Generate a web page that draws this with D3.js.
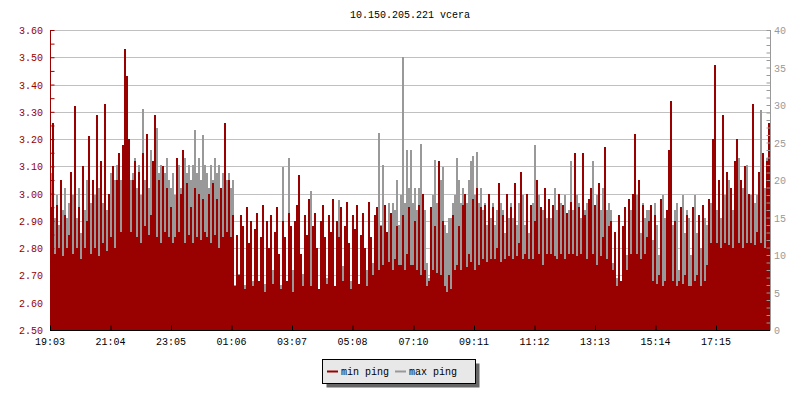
<!DOCTYPE html>
<html><head><meta charset="utf-8">
<script src="https://cdnjs.cloudflare.com/ajax/libs/d3/7.8.5/d3.min.js"></script>
<style>
html,body{margin:0;padding:0;background:#fff;}
svg text{font-family:"Liberation Mono","DejaVu Sans Mono",monospace;font-size:10px;}
</style></head>
<body><svg id="c" width="800" height="400"></svg>
<script>
const title = "10.150.205.221 vcera";
const xTickLabels = ["19:03","21:04","23:05","01:06","03:07","05:08","07:10","09:11","11:12","13:13","15:14","17:15"];
const leftTickLabels = ["2.50","2.60","2.70","2.80","2.90","3.00","3.10","3.20","3.30","3.40","3.50","3.60"];
const rightTickLabels = [0,5,10,15,20,25,30,35,40];
const seriesNames = ["min ping","max ping"];
const spanMinutes = 1440;
const stepMinutes = 4;
// min ping (left axis), one value per 4 minutes
const minPing = [
2.95,3.26,2.78,2.96,2.80,3.05,2.77,2.92,2.80,2.85,
3.08,2.78,3.32,2.80,2.95,2.76,3.10,2.80,2.90,3.21,
2.78,3.05,2.80,3.29,2.77,3.12,2.82,3.33,2.79,3.00,
2.84,3.10,2.80,3.05,3.15,2.86,3.18,3.53,3.43,3.20,
2.86,3.05,3.12,2.84,3.08,2.82,3.15,2.88,3.22,2.85,
2.92,3.12,3.29,2.84,3.05,2.82,3.10,2.86,3.02,2.84,
2.95,2.82,2.84,3.13,2.86,3.00,3.16,2.82,3.04,2.85,
2.95,2.82,3.02,2.84,3.00,2.83,2.98,2.86,2.84,3.00,
2.82,3.04,2.85,2.98,2.80,3.02,2.84,3.26,2.86,3.05,
2.84,2.92,2.66,2.85,2.70,2.92,2.88,2.65,2.95,2.82,
2.90,2.66,2.87,2.93,2.68,2.84,2.96,2.64,2.90,2.80,
2.92,2.67,2.86,2.95,2.78,2.65,2.90,2.84,2.68,2.93,
2.88,2.64,2.90,2.96,3.07,2.78,2.66,2.92,2.85,2.98,
2.66,2.88,2.93,2.80,2.65,2.90,2.96,2.84,2.67,2.92,
2.86,2.98,2.66,2.90,2.84,2.95,2.68,2.88,2.97,2.82,
2.65,2.92,2.87,2.96,2.67,2.85,2.93,2.80,2.66,2.97,
2.84,2.70,2.92,2.95,2.72,2.88,2.74,2.96,2.86,2.75,
2.93,2.72,2.76,2.88,2.74,2.74,2.92,2.72,2.78,2.95,
2.74,2.74,2.90,2.72,2.96,2.70,3.00,2.72,2.66,2.68,
2.95,2.72,2.88,2.71,3.12,2.70,2.90,2.66,2.64,2.70,
2.65,2.92,2.72,2.74,2.88,2.72,2.96,3.00,2.73,2.78,
2.75,2.98,2.72,3.02,2.74,2.95,2.76,2.96,2.75,3.00,
2.76,2.95,2.76,2.80,3.04,2.75,2.92,2.76,3.00,2.77,
2.95,2.76,3.04,2.77,2.82,3.08,2.76,2.78,3.00,2.76,
2.96,2.76,2.90,3.05,2.78,2.95,2.74,3.02,2.78,2.98,
2.78,2.96,2.77,2.76,3.00,2.78,2.96,2.76,2.93,2.78,
2.97,2.78,3.15,2.77,2.95,2.78,3.15,2.92,2.76,2.98,
3.02,2.78,2.96,2.74,3.04,2.77,2.84,3.17,2.76,2.88,
2.90,2.72,2.86,2.66,2.92,2.68,2.88,2.95,2.72,2.98,
2.78,3.00,3.22,2.78,3.05,2.76,2.96,2.78,2.84,2.90,
2.96,2.68,2.92,2.67,2.70,2.98,2.66,2.68,2.94,3.16,
3.34,2.68,2.90,2.66,2.68,2.95,2.67,2.70,2.92,2.66,
2.66,2.95,2.68,2.70,2.92,2.66,2.96,2.68,2.74,2.98,
2.82,3.20,3.47,2.82,3.05,2.80,3.29,2.82,3.08,2.81,
3.02,2.80,3.12,3.20,2.82,3.05,2.80,3.10,2.82,3.00,
2.82,3.33,2.81,2.86,3.08,2.82,3.15,2.80,3.12,3.26];
// max ping (right axis), one value per 4 minutes
const maxPing = [
21,16,15,18,14,17,16,19,15,17,
14,18,16,15,19,13,17,16,20,25,
17,15,18,16,19,15,17,20,16,18,
21,19,20,22,18,20,19,24,21,22,
20,21,23,19,22,18,29.5,20,22,19,
24,20,21,27,21,22,19,21,23,20,
19,21,18,20,22,19,20,23,21,22,
20,22,26.7,21,23,20,26,22,21,19,
22,20,23,21,22,19,21,24,20,21,
19,20,6,5,7.5,5.2,8,6,9,5.5,
7,6.5,5,8.5,6,5.2,7.5,6.2,10,5,
7,8,5.5,6.5,9,6,21.8,7,5,23,
6,8,5.5,7,9,6,7.5,5,8,6.5,
18.6,6,7,9,5.5,6.5,8,6,7,10,
6,8,5.5,7,17.3,6,8.5,5,7,9,
6.5,7,5.5,8,6,9.5,7,6,8,10,
7,9,12,8,26.3,14,22,16,13,17,
15,17,16,20,14,18,36.4,17,24,19,
24,17,19,16,19,24.8,18,16,9,7,
16,18,22.7,17,19,20,21.8,14,13,15,
15,17,18,23,20,17,19,18,17,20,
22.5,23.2,18,23.8,17,19,16,17,14,16,
15,17,14,16,15,17,16,13,16,15,
17,15,16,14,17,15,18,14,16,13,
16,17,24.7,15,18,14,16,18,15,17,
15,16,19,16,14,17,15,18,14,16,
22.5,16,14,18,17,15,19,16,17,15,
17,22.5,15,18,14,16,19,15,16,17,
16,9,13,7,12,6,13,15,10,14,
16,14,15,18,16,13,17,15,16,16,
15,12,17,14,10,16,18,15,12,16,
19,14,16,17,8,15,18,13,16,15,
10,15,18,13,15,11,16,15,14,17,
17,20.7,19,16,19,15,22,18,17,20,
19,16,21,17,23,17,19,18,22,16,
18,20,17,18,21,29.4,16,19,23,21];

const RED = "#990000", GREY = "#999999", GRID = "#c0c0c0";
const svg = d3.select("#c");
const L = 50, R = 770, T = 30, B = 330;

const x = d3.scaleLinear().domain([0, spanMinutes]).range([L, R]);
const yL = d3.scaleLinear().domain([+leftTickLabels[0], +leftTickLabels[leftTickLabels.length-1]]).range([B, T]);
const yR = d3.scaleLinear().domain([rightTickLabels[0], rightTickLabels[rightTickLabels.length-1]]).range([B, T]);

// title
svg.append("text").attr("x", 410).attr("y", 18).attr("text-anchor","middle").attr("fill","#000").text(title);

// gridlines
svg.append("g").selectAll("line").data(leftTickLabels.slice(1)).join("line")
  .attr("x1", L).attr("x2", R).attr("y1", d=>Math.round(yL(+d))+0.5).attr("y2", d=>Math.round(yL(+d))+0.5)
  .attr("stroke", GRID).attr("stroke-width", 1);

// data
const toPts = arr => { const p = arr.map((v,i)=>({t:i*stepMinutes, v})); p.push({t:spanMinutes, v:arr[arr.length-1]}); return p; };
const areaR = d3.area().curve(d3.curveStepAfter).x(d=>x(d.t)).y0(B).y1(d=>yR(d.v));
const areaL = d3.area().curve(d3.curveStepAfter).x(d=>x(d.t)).y0(B).y1(d=>yL(d.v));
svg.append("path").datum(toPts(maxPing)).attr("d", areaR).attr("fill", GREY).attr("shape-rendering","crispEdges");
svg.append("path").datum(toPts(minPing)).attr("d", areaL).attr("fill", RED).attr("shape-rendering","crispEdges");

// left axis
const leftMinor = d3.range(0, 23).map(k => 2.5 + k*0.05);
const gL = svg.append("g").attr("transform", `translate(${L+0.5},0)`)
  .call(d3.axisRight(yL).tickValues(leftMinor).tickSize(4).tickFormat(""));
gL.select(".domain").attr("stroke", RED).attr("d", `M0,${T}V${B}`);
gL.selectAll(".tick line").attr("stroke", RED);
svg.append("g").selectAll("text").data(leftTickLabels).join("text")
  .attr("x", 43).attr("y", d=>yL(+d)+4).attr("text-anchor","end").attr("fill", RED).text(d=>d);

// right axis
const rightMinor = d3.range(0, 41);
const gR = svg.append("g").attr("transform", `translate(${R+0.5},0)`)
  .call(d3.axisLeft(yR).tickValues(rightMinor).tickSize(4).tickFormat(""));
gR.select(".domain").attr("stroke", GREY).attr("d", `M0,${T}V${B}`);
gR.selectAll(".tick line").attr("stroke", GREY);
svg.append("g").selectAll("text").data(rightTickLabels).join("text")
  .attr("x", 774).attr("y", d=>yR(d)+4).attr("text-anchor","start").attr("fill", GREY).text(d=>d);

// bottom axis
const toMin = s => { const [h,m] = s.split(":").map(Number); const [h0,m0] = xTickLabels[0].split(":").map(Number); let d = (h*60+m) - (h0*60+m0); if (d<0) d += 1440; return d; };
const xTicks = xTickLabels.map(toMin);
const gB = svg.append("g").attr("transform", `translate(0,${B+0.5})`)
  .call(d3.axisTop(x).tickValues(xTicks).tickSize(5).tickFormat(""));
gB.select(".domain").attr("stroke", "#000").attr("d", `M${L},0H${R}`);
gB.selectAll(".tick line").attr("stroke", "#000");
svg.append("g").selectAll("text").data(xTickLabels).join("text")
  .attr("x", d=>x(toMin(d))).attr("y", 345).attr("text-anchor","middle").attr("fill","#000").text(d=>d);

// legend
const lg = svg.append("g");
lg.append("rect").attr("x", 326.5).attr("y", 363.5).attr("width", 153).attr("height", 24).attr("fill", "#666");
lg.append("rect").attr("x", 322.5).attr("y", 359.5).attr("width", 153).attr("height", 24).attr("fill", "#e8e8e8").attr("stroke","#000");
const items = [{name:seriesNames[0], c:RED, x:327}, {name:seriesNames[1], c:GREY, x:395}];
items.forEach(it => {
  lg.append("rect").attr("x", it.x).attr("y", 370.5).attr("width", 11).attr("height", 2).attr("fill", it.c);
  lg.append("text").attr("x", it.x+14).attr("y", 375).attr("fill","#000").text(it.name);
});
</script></body></html>
